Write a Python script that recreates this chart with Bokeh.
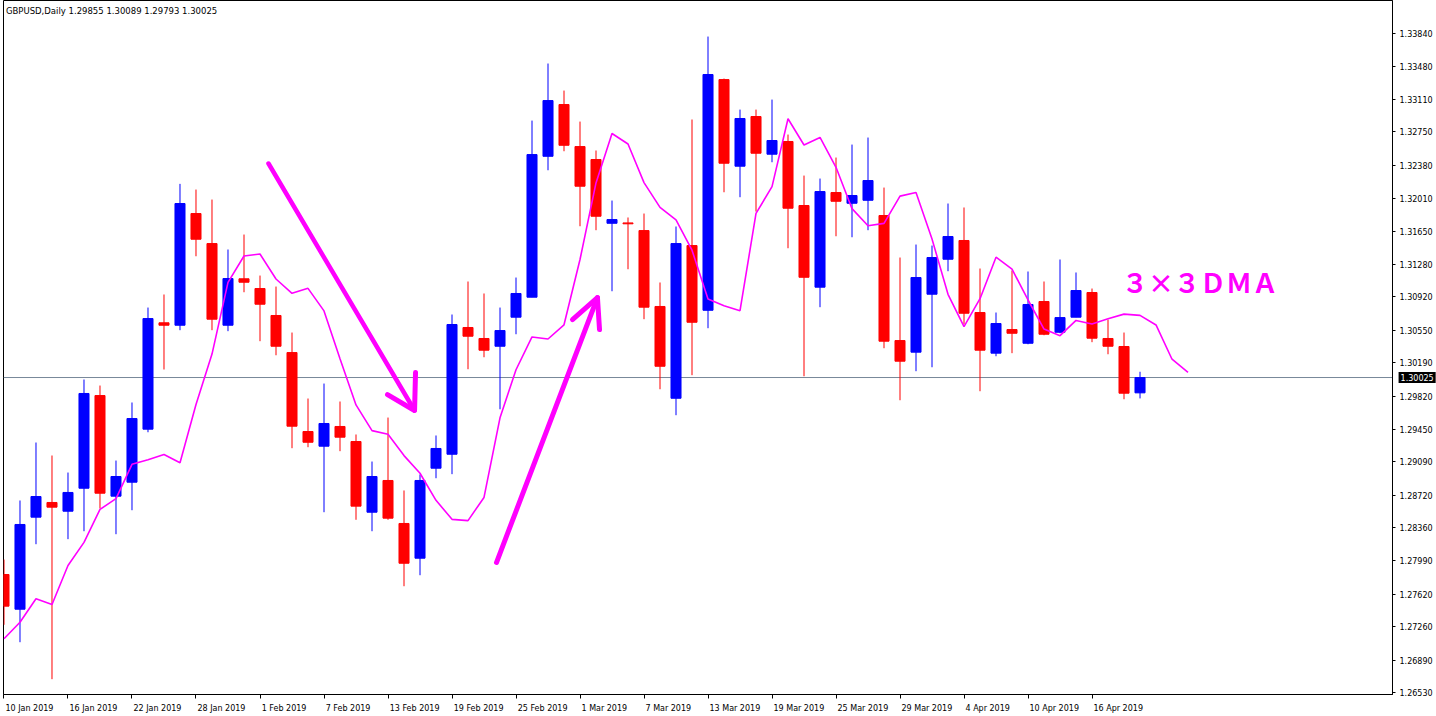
from bokeh.plotting import figure
from bokeh.models import (Range1d, FixedTicker, PrintfTickFormatter, Span, Label,
                          ColumnDataSource)
from bokeh.embed import file_html
from bokeh.resources import INLINE

# ---------------- data (GBPUSD daily, 10 Jan 2019 .. 19 Apr 2019) ----------------
opens = [1.27840, 1.27455, 1.28476, 1.28639, 1.28542, 1.28797, 1.29825, 1.28709, 1.28864, 1.29452,
         1.30632, 1.30605, 1.31844, 1.31511, 1.30605, 1.31120, 1.31012, 1.30713, 1.30302, 1.29426,
         1.29263, 1.29482, 1.29315, 1.28531, 1.28883, 1.28406, 1.28021, 1.29019, 1.29174, 1.30580,
         1.30458, 1.30372, 1.30694, 1.30916, 1.32479, 1.33053, 1.32587, 1.32443, 1.31736, 1.31740,
         1.31655, 1.30813, 1.29795, 1.31489, 1.30771, 1.33330, 1.32369, 1.32920, 1.32502, 1.32643,
         1.31933, 1.31027, 1.32077, 1.31958, 1.31991, 1.31822, 1.30435, 1.30306, 1.30949, 1.31337,
         1.31545, 1.30746, 1.30295, 1.30557, 1.30405, 1.30868, 1.30527, 1.30694, 1.30968, 1.30458,
         1.30369, 1.29855]
highs = [1.28006, 1.28661, 1.29304, 1.29160, 1.28971, 1.30003, 1.29936, 1.29104, 1.29748, 1.30801,
         1.30946, 1.32173, 1.32110, 1.31999, 1.31445, 1.31611, 1.31156, 1.31034, 1.30524, 1.29792,
         1.29958, 1.29759, 1.29393, 1.29093, 1.29581, 1.28772, 1.28949, 1.29382, 1.30724, 1.31090,
         1.30957, 1.30801, 1.31134, 1.32875, 1.33508, 1.33208, 1.32864, 1.32543, 1.31988, 1.31800,
         1.31844, 1.31079, 1.31700, 1.32887, 1.33807, 1.33341, 1.32997, 1.32997, 1.33108, 1.32720,
         1.32265, 1.32232, 1.32465, 1.32609, 1.32687, 1.32132, 1.31356, 1.31500, 1.31489, 1.31955,
         1.31911, 1.31234, 1.30746, 1.31212, 1.31201, 1.31090, 1.31334, 1.31190, 1.31012, 1.30668,
         1.30524, 1.30089]
lows = [1.27282, 1.27089, 1.28176, 1.26679, 1.28232, 1.28320, 1.28572, 1.28287, 1.28553, 1.29418,
        1.30114, 1.30550, 1.31370, 1.30550, 1.30539, 1.30971, 1.30428, 1.30272, 1.29241, 1.29252,
        1.28531, 1.29208, 1.28447, 1.28320, 1.28447, 1.27710, 1.27832, 1.28908, 1.28953, 1.30117,
        1.30250, 1.29673, 1.30505, 1.30916, 1.32324, 1.32535, 1.31703, 1.31659, 1.30982, 1.31226,
        1.30672, 1.29895, 1.29607, 1.30051, 1.30572, 1.32080, 1.32025, 1.31866, 1.32413, 1.31459,
        1.30039, 1.30805, 1.31592, 1.31581, 1.31659, 1.30350, 1.29773, 1.30095, 1.30139, 1.31204,
        1.30616, 1.29873, 1.30261, 1.30295, 1.30394, 1.30494, 1.30516, 1.30694, 1.30417, 1.30283,
        1.29784, 1.29793]
closes = [1.27489, 1.28395, 1.28705, 1.28587, 1.28750, 1.29848, 1.28742, 1.28927, 1.29570, 1.30679,
          1.30605, 1.31955, 1.31559, 1.30672, 1.31123, 1.31082, 1.30838, 1.30372, 1.29485, 1.29307,
          1.29515, 1.29363, 1.28598, 1.28927, 1.28465, 1.27965, 1.28883, 1.29238, 1.30613, 1.30483,
          1.30328, 1.30546, 1.30957, 1.32498, 1.33097, 1.32601, 1.32147, 1.31814, 1.31777, 1.31730,
          1.30805, 1.30150, 1.31511, 1.30638, 1.33386, 1.32402, 1.32898, 1.32513, 1.32654, 1.31903,
          1.31137, 1.32088, 1.31980, 1.32044, 1.32210, 1.30428, 1.30206, 1.31134, 1.31356, 1.31589,
          1.30738, 1.30328, 1.30624, 1.30516, 1.30835, 1.30505, 1.30690, 1.30990, 1.30461, 1.30372,
          1.29851, 1.30025]
# 3x3 DMA (3-period average displaced 3 bars forward), values read per bar slot
dma = [1.27127, 1.27311, 1.27571, 1.27507, 1.27940, 1.28196, 1.28562, 1.28681, 1.29062, 1.29113,
       1.29172, 1.29080, 1.29725, 1.30285, 1.31080, 1.31373, 1.31395, 1.31118, 1.30959, 1.31014,
       1.30764, 1.30232, 1.29721, 1.29436, 1.29395, 1.29159, 1.28963, 1.28663, 1.28452, 1.28438,
       1.28695, 1.29578, 1.30111, 1.30475, 1.30452, 1.30610, 1.31334, 1.32184, 1.32732, 1.32615,
       1.32187, 1.31913, 1.31774, 1.31437, 1.30895, 1.30822, 1.30766, 1.31845, 1.32142, 1.32895,
       1.32604, 1.32688, 1.32357, 1.31898, 1.31709, 1.31735, 1.32037, 1.32078, 1.31561, 1.30948,
       1.30589, 1.30899, 1.31360, 1.31228, 1.30885, 1.30563, 1.30489, 1.30658, 1.30619, 1.30677,
       1.30728, 1.30714, 1.30608, 1.30228, 1.30083]
date_labels = ["10 Jan 2019", "16 Jan 2019", "22 Jan 2019", "28 Jan 2019", "1 Feb 2019",
               "7 Feb 2019", "13 Feb 2019", "19 Feb 2019", "25 Feb 2019", "1 Mar 2019",
               "7 Mar 2019", "13 Mar 2019", "19 Mar 2019", "25 Mar 2019", "29 Mar 2019",
               "4 Apr 2019", "10 Apr 2019", "16 Apr 2019"]
price_ticks = [1.33840, 1.33480, 1.33110, 1.32750, 1.32380, 1.32010, 1.31650, 1.31280, 1.30920,
               1.30550, 1.30190, 1.29820, 1.29450, 1.29090, 1.28720, 1.28360, 1.27990, 1.27620,
               1.27260, 1.26890, 1.26530]
symbol = "GBPUSD,Daily"
last_price = 1.30025

# hand-drawn arrows on the chart (bar slot, price)
arrow_down_x = [16.53, 25.66]
arrow_down_y = [1.32399, 1.29659]
arrow_down_head_x = [25.72, 25.66, 23.97]
arrow_down_head_y = [1.30080, 1.29659, 1.29836]
arrow_up_x = [30.78, 37.09]
arrow_up_y = [1.27973, 1.30912]
arrow_up_head_x = [35.53, 37.09, 37.22]
arrow_up_head_y = [1.30668, 1.30912, 1.30557]

# ---------------- build ----------------
BULL = "#0000FF"
BEAR = "#FF0000"
MAG = "#FF00FF"
FONT = "DejaVu Sans"
FONT_PX = 8
PX_PER_BAR = 16.0

n = len(opens)
xs = list(range(n))
src = ColumnDataSource(dict(
    x=xs, open=opens, high=highs, low=lows, close=closes,
    top=[max(o, c) for o, c in zip(opens, closes)],
    bottom=[min(o, c) for o, c in zip(opens, closes)],
    color=[BULL if c > o else BEAR for o, c in zip(opens, closes)],
))

p = figure(frame_width=1389, frame_height=694,
           x_range=Range1d(-0.031, 86.78), y_range=Range1d(1.26509, 1.34207),
           output_backend="svg", toolbar_location=None, y_axis_location="right",
           min_border_left=3, min_border_top=0, min_border_right=0, min_border_bottom=0,
           background_fill_color="white", border_fill_color="white")
p.outline_line_color = "black"
p.outline_line_width = 1
p.xgrid.visible = False
p.ygrid.visible = False

p.add_layout(Span(location=last_price, dimension="width", line_color="#778899",
                  line_width=1, level="underlay"))

p.segment(x0="x", y0="low", x1="x", y1="high", color="color", line_width=1, source=src)
p.vbar(x="x", top="top", bottom="bottom", width=0.627, fill_color="color",
       line_color="color", line_width=1, source=src)

p.line(x=list(range(len(dma))), y=dma, line_color=MAG, line_width=1.6)

for ax_x, ax_y, w in [(arrow_down_x, arrow_down_y, 4.5), (arrow_down_head_x, arrow_down_head_y, 5),
                      (arrow_up_x, arrow_up_y, 5), (arrow_up_head_x, arrow_up_head_y, 5)]:
    p.line(x=ax_x, y=ax_y, line_color=MAG, line_width=w, line_cap="round", line_join="round")

# y axis (right)
ya = p.yaxis[0]
ya.ticker = FixedTicker(ticks=price_ticks)
ya.formatter = PrintfTickFormatter(format="%.5f")
ya.axis_line_color = "black"
ya.major_tick_line_color = "black"
ya.minor_tick_line_color = None
ya.major_tick_out = 3
ya.major_tick_in = 0
ya.major_label_standoff = 4
ya.major_label_text_font = FONT
ya.major_label_text_font_size = f"{FONT_PX}px"
ya.major_label_text_color = "black"

# x axis: tick marks at the bars (minor ticks), date text left-aligned right of each mark
tick_pos = [4 * i for i in range(len(date_labels))]
EM = {"0": .636, "1": .636, "2": .636, "3": .636, "4": .636, "5": .636, "6": .636, "7": .636,
      "8": .636, "9": .636, " ": .318, "J": .295, "a": .613, "n": .634, "F": .575, "e": .615,
      "b": .635, "M": .863, "r": .411, "A": .684, "p": .635}
def text_w(s):
    return sum(EM.get(ch, .6) for ch in s) * FONT_PX
label_pos = [round(t + (1.5 + text_w(s) / 2) / PX_PER_BAR, 4) for t, s in zip(tick_pos, date_labels)]
xa = p.xaxis[0]
xa.ticker = FixedTicker(ticks=label_pos, minor_ticks=tick_pos)
xa.major_label_overrides = {t: s for t, s in zip(label_pos, date_labels)}
xa.axis_line_color = "black"
xa.major_tick_line_color = None
xa.major_tick_out = 0
xa.major_tick_in = 0
xa.minor_tick_line_color = "black"
xa.minor_tick_out = 4
xa.minor_tick_in = 0
xa.major_label_standoff = 5
xa.major_label_text_font = FONT
xa.major_label_text_font_size = f"{FONT_PX}px"
xa.major_label_text_color = "black"

# header text
p.add_layout(Label(x=0.12, y=1.34090,
                   text=f"{symbol}  {opens[-1]:.5f} {highs[-1]:.5f} {lows[-1]:.5f} {closes[-1]:.5f}",
                   text_font=FONT, text_font_size="8.5px", text_color="black",
                   text_baseline="middle", text_align="left"))

# annotation text
p.add_layout(Label(x=69.875, y=1.31089, text="３×３ＤＭＡ", text_font="Noto Sans CJK JP",
                   text_font_size="26px", text_font_style="bold", text_color=MAG,
                   text_baseline="middle", text_align="left"))

# current price box, placed in the right panel so it is not clipped by the frame
p.add_layout(Label(x=87.16, y=last_price, text=f"{last_price:.5f}", text_font=FONT,
                   text_font_size=f"{FONT_PX}px", text_color="white", background_fill_color="black",
                   text_baseline="middle", text_align="left", padding=2), "right")

open("out.html", "w").write(file_html(p, INLINE))
